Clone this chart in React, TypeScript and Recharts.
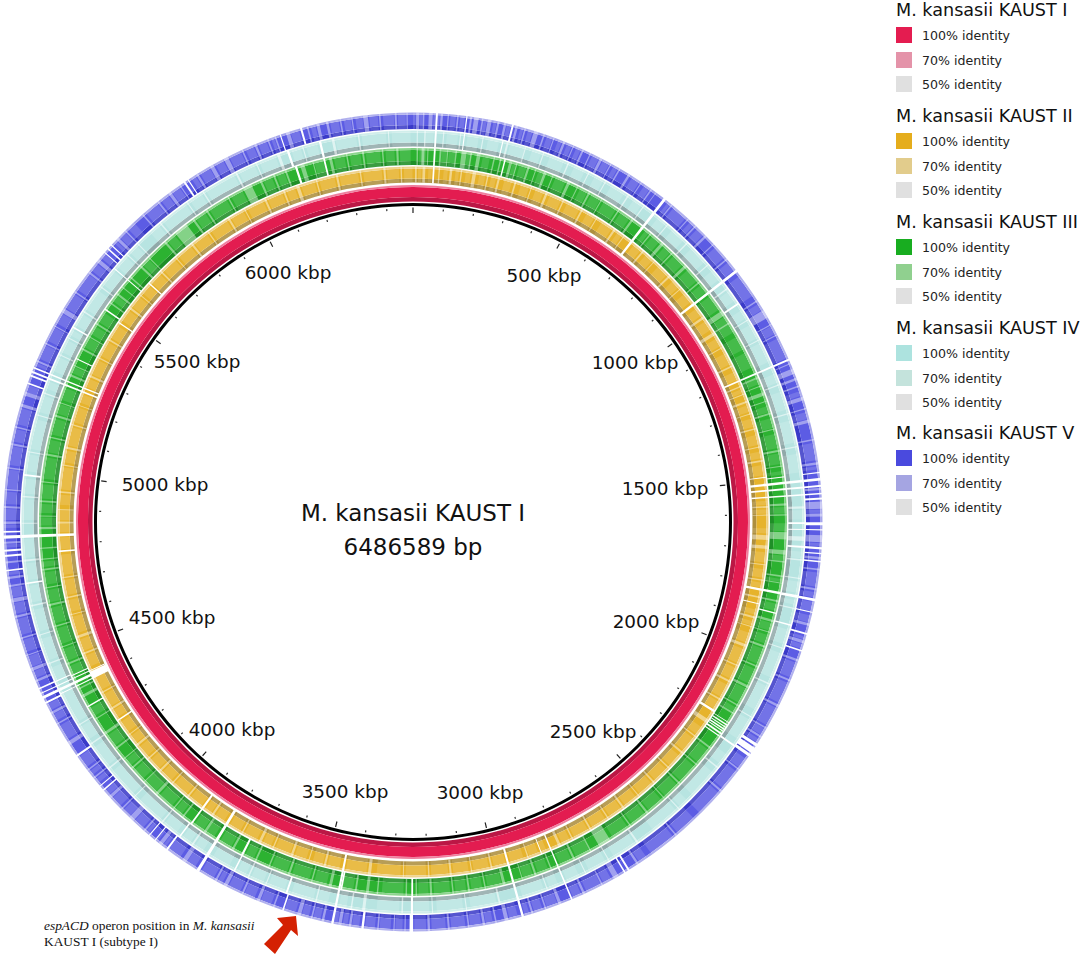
import React from "react";
import { PieChart, Pie } from "recharts";

const GENOME_KBP = 6486.589;
const minorTicks = [100,200,300,400,600,700,800,900,1100,1200,1300,1400,1600,1700,1800,1900,2100,2200,2300,2400,2600,2700,2800,2900,3100,3200,3300,3400,3600,3700,3800,3900,4100,4200,4300,4400,4600,4700,4800,4900,5100,5200,5300,5400,5600,5700,5800,5900,6100,6200,6300,6400];
const majorTicks = [0,500,1000,1500,2000,2500,3000,3500,4000,4500,5000,5500,6000];
const labelKbp = [500,1000,1500,2000,2500,3000,3500,4000,4500,5000,5500,6000];

// white gaps seen through all four comparison rings [start kbp, width kbp]
const sharedGaps = [[58,5],[680,7],[937,7],[1198,5],[1510,7],[1528,5],[1548,4],[1816,7],[2960,6],[2830,4],[3445,6],[3810,8],[4404,7],[4418,3],[4823,8],[5250,5],[5262,4]];

const goldGaps = [[1490,3],[1860,3],[2197,7],[2860,3],[4395,22],[4777,5],[5478,4],[3895,6],[4252,4],[5622,4]];
const goldStrong = [[6,5],[28,8],[75,4],[108,7],[140,4],[175,10],[218,4],[250,6],[300,5],[350,3],[395,7],[450,4],[510,5],[560,3],[620,6],[655,3],[725,5],[770,3],[830,6],[880,3],[985,7],[1040,10],[1090,3],[1150,5],[1215,4],[1240,3],[1262,6],[1300,3],[1345,4],[1400,3],[1440,5],[1575,5],[1600,3],[1660,14],[1690,10],[1745,3],[1790,4],[1840,5],[1900,6],[1930,3],[1985,8],[2050,4],[2100,6],[2160,5],[2230,12],[2290,4],[2350,6],[2410,4],[2470,5],[2530,3],[2585,6],[2640,4],[2700,5],[2760,4],[2800,8],[2900,4],[3010,5],[3070,3],[3130,6],[3195,4],[3270,3],[3366,9],[3500,6],[3550,3],[3600,7],[3660,4],[3700,8],[3760,4],[3860,6],[3950,5],[4010,4],[4060,6],[4110,4],[4160,7],[4200,3],[4290,6],[4345,4],[4470,5],[4520,8],[4590,3],[4640,5],[4700,4],[4860,6],[4900,3],[4950,5],[5030,3],[5080,6],[5150,4],[5210,3],[5300,6],[5360,4],[5420,5],[5530,6],[5580,3],[5670,5],[5730,3],[5790,6],[5850,4],[5920,6],[5975,3],[6040,6],[6100,5],[6140,10],[6200,4],[6260,6],[6330,4],[6400,6],[6450,4]];
const goldFaint = [[15,10],[45,10],[90,12],[125,10],[155,15],[195,18],[230,15],[270,22],[320,25],[365,24],[410,35],[465,40],[530,25],[580,35],[635,15],[695,25],[740,25],[790,35],[850,25],[900,30],[955,25],[1000,30],[1060,25],[1110,35],[1170,25],[1225,12],[1275,20],[1315,25],[1365,30],[1415,20],[1455,30],[1560,12],[1585,12],[1640,15],[1710,30],[1760,25],[1800,14],[1880,15],[1915,12],[1950,30],[2000,45],[2060,35],[2115,40],[2170,24],[2260,25],[2300,45],[2365,40],[2420,45],[2480,45],[2540,40],[2595,40],[2650,45],[2710,45],[2770,25],[2845,14],[2870,28],[2915,40],[2970,35],[3020,45],[3080,45],[3140,50],[3205,60],[3280,70],[3380,60],[3460,35],[3510,30],[3560,35],[3610,45],[3670,25],[3715,40],[3770,35],[3825,30],[3870,20],[3905,40],[3960,45],[4020,35],[4070,35],[4120,35],[4170,25],[4210,35],[4262,24],[4300,40],[4355,45],[4430,35],[4480,35],[4535,50],[4600,35],[4650,45],[4710,60],[4785,35],[4835,24],[4870,30],[4915,30],[4960,65],[5040,35],[5090,55],[5160,45],[5220,25],[5270,25],[5310,45],[5370,45],[5430,40],[5490,35],[5540,35],[5590,28],[5630,35],[5680,45],[5740,45],[5800,45],[5860,55],[5930,40],[5985,50],[6050,45],[6110,25],[6155,40],[6210,45],[6270,55],[6340,55],[6410,35],[6460,25]];

const greenGaps = [[255,4],[1495,3],[1874,4],[2205,2],[2212,4],[2220,3],[2226,4],[2233,3],[2240,5],[2250,3],[3243,5],[3440,5],[3730,6],[3895,5],[4330,4],[5487,4],[5330,3],[6155,6],[6236,5],[5590,3],[4395,3],[4427,3]];
const greenStrong = [[10,4],[24,8],[40,3],[74,5],[95,3],[118,4],[135,14],[160,4],[178,10],[225,4],[243,4],[270,8],[290,3],[322,6],[345,3],[370,7],[395,3],[440,8],[470,3],[505,5],[545,3],[600,4],[645,6],[710,4],[750,9],[790,4],[840,8],[900,4],[1002,15],[1040,4],[1210,5],[1235,3],[1255,10],[1280,3],[1315,5],[1360,3],[1420,6],[1465,3],[1570,6],[1600,4],[1650,20],[1700,12],[1730,4],[1770,5],[1790,3],[1840,5],[1895,7],[1930,3],[1970,6],[2030,4],[2090,7],[2150,4],[2175,5],[2290,5],[2350,4],[2420,5],[2480,3],[2540,6],[2600,4],[2670,35],[2730,4],[2780,6],[2850,4],[2895,6],[2935,3],[2985,8],[3040,4],[3085,5],[3130,4],[3190,6],[3232,4],[3260,4],[3340,4],[3366,8],[3400,5],[3470,8],[3525,4],[3590,6],[3650,4],[3690,5],[3760,6],[3850,7],[3925,5],[3960,4],[4020,8],[4070,3],[4120,5],[4155,3],[4190,5],[4240,8],[4290,3],[4360,8],[4385,4],[4460,5],[4510,3],[4570,4],[4630,6],[4680,3],[4730,5],[4760,3],[4790,4],[4845,6],[4880,3],[4920,5],[4975,3],[5050,6],[5100,4],[5160,6],[5200,3],[5280,6],[5310,3],[5360,5],[5400,3],[5440,5],[5510,4],[5540,6],[5565,3],[5600,4],[5640,6],[5675,3],[5735,6],[5775,40],[5835,6],[5880,5],[5950,4],[6000,25],[6050,6],[6090,5],[6125,5],[6170,12],[6205,3],[6252,8],[6300,4],[6345,5],[6400,4],[6440,6]];
const greenFaint = [[18,18],[80,15],[100,18],[150,12],[195,20],[280,12],[300,20],[355,18],[405,30],[480,22],[515,28],[555,40],[610,30],[695,12],[720,25],[765,22],[800,35],[855,40],[910,25],[950,45],[1020,50],[1085,40],[1135,45],[1215,15],[1295,18],[1330,28],[1375,40],[1430,30],[1480,10],[1580,18],[1625,22],[1715,15],[1780,9],[1850,20],[1905,22],[1940,25],[1980,45],[2040,45],[2100,45],[2160,14],[2300,45],[2360,55],[2430,45],[2490,45],[2550,45],[2610,50],[2735,40],[2790,35],[2860,30],[2905,28],[2995,40],[3050,30],[3095,30],[3140,45],[3200,28],[3270,60],[3410,30],[3485,35],[3535,50],[3600,45],[3700,25],[3770,35],[3825,25],[3860,30],[3935,22],[3970,45],[4030,40],[4080,35],[4130,22],[4200,35],[4300,25],[4430,25],[4470,35],[4520,45],[4580,45],[4640,35],[4690,35],[4740,15],[4855,22],[4890,25],[4930,40],[4985,60],[5060,35],[5110,45],[5170,28],[5210,35],[5290,18],[5370,28],[5410,25],[5450,30],[5520,18],[5650,22],[5745,25],[5845,30],[5890,55],[5960,35],[6060,25],[6100,22],[6210,25],[6265,30],[6310,30],[6355,40],[6410,25],[6450,30]];

const tealGaps = [[135,3],[238,3],[1009,5],[1640,3],[1622,5],[1685,5],[1895,4],[2247,5],[3243,6],[3580,5],[3730,4],[3900,4],[4395,3],[4430,3],[4700,4],[4987,5],[5400,4],[5590,3],[6148,6],[6236,6]];
const tealStrong = [[10,3],[30,4],[80,3],[125,3],[185,3],[250,5],[300,3],[350,3],[420,4],[480,3],[530,3],[600,4],[650,3],[730,3],[800,4],[880,3],[960,4],[1060,3],[1120,3],[1250,3],[1330,3],[1420,3],[1580,6],[1660,12],[1720,4],[1770,3],[1850,4],[1960,3],[2060,4],[2160,3],[2320,4],[2470,3],[2610,5],[2700,3],[2770,3],[2880,3],[3010,5],[3100,3],[3190,3],[3270,4],[3370,8],[3405,4],[3500,4],[3640,3],[3690,4],[3860,5],[3960,4],[4060,3],[4160,4],[4240,4],[4300,3],[4480,4],[4560,3],[4640,4],[4760,5],[4860,3],[4930,4],[5050,3],[5150,3],[5210,4],[5320,3],[5370,3],[5450,4],[5530,3],[5640,3],[5680,3],[5760,4],[5850,3],[5900,4],[6000,5],[6060,3],[6120,8],[6190,3],[6270,7],[6340,4],[6420,3]];
const tealFaint = [[35,20],[90,30],[145,30],[200,30],[260,40],[320,25],[370,40],[440,30],[500,25],[550,40],[620,25],[700,25],[750,40],[820,50],[900,30],[970,30],[1030,25],[1075,40],[1130,55],[1220,25],[1270,50],[1350,60],[1440,50],[1590,25],[1700,18],[1780,30],[1830,12],[1910,40],[1975,70],[2070,70],[2170,60],[2280,30],[2340,80],[2440,25],[2480,80],[2620,65],[2710,50],[2790,35],[2850,25],[2890,60],[3020,70],[3110,70],[3200,40],[3280,60],[3420,20],[3470,28],[3510,60],[3590,45],[3650,35],[3700,25],[3750,50],[3830,25],[3870,25],[3915,40],[3970,75],[4070,80],[4170,60],[4255,40],[4310,85],[4430,40],[4490,60],[4570,60],[4650,45],[4710,45],[4770,50],[4870,55],[4940,40],[5000,45],[5060,80],[5160,45],[5225,20],[5275,40],[5330,35],[5380,15],[5410,35],[5460,60],[5540,45],[5600,35],[5650,25],[5725,30],[5770,75],[5860,35],[5910,85],[6010,45],[6070,45],[6160,25],[6200,30],[6280,55],[6350,65],[6430,50]];

const blueGaps = [[135,3],[252,5],[1495,3],[1560,5],[1622,8],[1640,3],[1685,6],[1700,3],[1720,4],[1850,3],[1905,5],[1950,4],[2212,8],[2224,16],[2243,8],[2668,5],[2680,4],[3243,9],[3368,6],[3575,4],[3906,5],[3945,3],[3964,3],[4126,4],[4140,3],[4235,5],[4390,5],[4430,4],[4740,4],[4777,5],[4790,5],[4838,4],[5220,4],[5240,5],[5605,3],[5617,4],[5630,3],[5873,5],[5885,3],[6198,5],[6144,3]];
const blueStrong = [[8,8],[25,4],[40,10],[70,6],[88,3],[112,4],[145,5],[155,12],[175,4],[190,10],[215,5],[232,6],[262,6],[285,4],[310,12],[335,4],[362,3],[388,6],[415,3],[440,5],[462,3],[490,7],[520,3],[545,4],[572,6],[610,3],[640,4],[655,2],[705,4],[760,3],[785,4],[820,6],[850,3],[900,4],[1030,4],[1060,22],[1100,3],[1130,3],[1210,3],[1225,14],[1250,6],[1270,4],[1300,10],[1330,3],[1360,8],[1410,4],[1470,6],[1535,6],[1570,18],[1600,8],[1655,18],[1710,6],[1740,4],[1790,5],[1880,7],[1925,8],[1975,6],[2030,5],[2100,6],[2165,4],[2190,5],[2290,4],[2360,5],[2520,4],[2640,6],[2700,14],[2745,4],[2795,6],[2860,8],[2900,4],[2935,5],[3000,10],[3030,4],[3060,6],[3100,4],[3150,5],[3200,6],[3262,3],[3290,3],[3330,4],[3400,6],[3425,8],[3470,6],[3500,4],[3530,10],[3600,4],[3640,8],[3685,5],[3730,10],[3760,5],[3850,12],[3925,10],[3980,5],[4020,14],[4060,4],[4100,8],[4165,4],[4190,4],[4270,10],[4330,4],[4360,6],[4450,6],[4480,8],[4520,3],[4565,4],[4620,6],[4660,10],[4700,5],[4720,6],[4760,5],[4810,5],[4860,6],[4900,5],[4945,4],[5000,4],[5060,5],[5105,4],[5160,8],[5190,10],[5280,5],[5330,4],[5380,3],[5420,12],[5480,4],[5540,5],[5575,10],[5650,8],[5680,4],[5740,4],[5790,5],[5825,8],[5860,3],[5910,6],[5950,10],[5990,12],[6040,4],[6075,6],[6110,4],[6130,4],[6160,10],[6215,4],[6240,8],[6265,6],[6300,4],[6330,3],[6360,12],[6400,4],[6440,5],[6470,3]];
const blueFaint = [[0,6],[18,6],[52,16],[95,14],[120,12],[180,8],[205,8],[240,10],[275,8],[295,12],[345,15],[375,10],[400,12],[425,12],[470,18],[500,18],[530,12],[585,22],[622,16],[695,8],[715,40],[770,12],[795,22],[860,35],[910,25],[955,60],[1040,18],[1105,22],[1140,55],[1285,12],[1340,18],[1420,45],[1480,8],[1590,8],[1675,8],[1750,36],[1800,14],[1825,24],[1860,18],[1915,8],[1935,12],[1985,40],[2040,55],[2110,50],[2170,18],[2200,10],[2260,28],[2300,55],[2370,70],[2460,55],[2530,70],[2615,22],[2720,22],[2750,40],[2805,22],[2870,28],[2910,22],[2945,12],[2975,22],[3040,18],[3070,28],[3110,36],[3160,36],[3210,30],[3270,18],[3300,28],[3340,25],[3380,18],[3410,12],[3435,10],[3480,18],[3510,18],[3545,28],[3610,28],[3655,28],[3695,32],[3745,12],[3770,36],[3825,24],[3870,35],[3915,8],[3940,4],[3970,8],[3990,28],[4035,22],[4070,28],[4110,14],[4150,12],[4175,12],[4200,32],[4285,40],[4340,18],[4370,18],[4460,18],[4490,28],[4530,32],[4575,42],[4630,28],[4672,26],[4730,8],[4800,8],[4850,8],[4870,28],[4910,32],[4950,48],[5010,48],[5070,32],[5115,42],[5200,18],[5270,8],[5290,38],[5340,38],[5390,28],[5435,42],[5490,48],[5550,22],[5590,14],[5640,8],[5660,18],[5690,22],[5750,38],[5800,22],[5835,22],[5895,12],[5920,28],[5965,22],[6005,32],[6050,22],[6085,22],[6120,8],[6172,22],[6225,12],[6275,22],[6310,18],[6340,18],[6375,22],[6410,28],[6448,20]];

const legendGroups = ["M. kansasii KAUST I","M. kansasii KAUST II","M. kansasii KAUST III","M. kansasii KAUST IV","M. kansasii KAUST V"];
const legendLevels = ["100% identity","70% identity","50% identity"];
const legend100 = ["#e41c50","#e5ad1c","#18ad20","#ade3df","#4a4ade"];
const legend70 = ["#e493a9","#e2cc8c","#90d08f","#c4e3dc","#a5a5e2"];
const legendTop = [0,106,212,318,423];

const CX = 413;
const CY = 522;
const WIDTH = 1084;
const HEIGHT = 955;
const FONT = '"DejaVu Sans", sans-serif';

// label centre relative to the circle centre, in label order
const labelOffset = [[131,-247],[222,-160],[252,-34],[243,99],[180,209],[67,270],[-68,269],[-181,207],[-241,95],[-248,-38],[-216,-161],[-125,-250]];

type Seg = { value: number; fill: string };

function segments(list: number[][], fill: string): Seg[] {
  const sorted = [...list].sort((a, b) => a[0] - b[0]);
  const out: Seg[] = [];
  let cur = 0;
  for (const [p, w] of sorted) {
    const start = Math.max(p, cur);
    const end = Math.min(p + w, GENOME_KBP);
    if (end <= start) continue;
    if (start > cur) out.push({ value: start - cur, fill: "none" });
    out.push({ value: end - start, fill });
    cur = end;
  }
  if (cur < GENOME_KBP) out.push({ value: GENOME_KBP - cur, fill: "none" });
  return out;
}

const solid = (fill: string): Seg[] => [{ value: GENOME_KBP, fill }];

function Ring(key: string, data: Seg[], inner: number, outer: number, shift = 0, label?: any) {
  return (
    <Pie
      key={key}
      data={data}
      dataKey="value"
      cx={CX}
      cy={CY}
      innerRadius={inner}
      outerRadius={outer}
      startAngle={90 + shift}
      endAngle={-270 + shift}
      paddingAngle={0}
      stroke="none"
      isAnimationActive={false}
      legendType="none"
      label={label ?? false}
      labelLine={false}
    />
  );
}

const ringSpecs = [
  { id: "gold", r0: 339.5, r1: 355.5, dark: "#ad8f3f", main: "#e6b32c", pale: "#eccd7f", gaps: goldGaps, strong: goldStrong, faint: goldFaint, so: 0.45, fo: 0.13 },
  { id: "green", r0: 357, r1: 374, dark: "#1f8f27", main: "#2cb231", pale: "#7fcf80", gaps: greenGaps, strong: greenStrong, faint: greenFaint, so: 0.42, fo: 0.12 },
  { id: "teal", r0: 375.5, r1: 391.5, dark: "#90a9a9", main: "#b7e4e1", pale: "#c9ebe8", gaps: tealGaps, strong: tealStrong, faint: tealFaint, so: 0.55, fo: 0.15 },
  { id: "blue", r0: 393, r1: 409.5, dark: "#3a3ac8", main: "#5c5ce4", pale: "#a5a5ec", gaps: blueGaps, strong: blueStrong, faint: blueFaint, so: 0.42, fo: 0.14 },
];

function labelSegments(): Seg[] {
  const out: Seg[] = [];
  let prev = 0;
  for (const k of labelKbp) {
    out.push({ value: k - prev, fill: "none" });
    prev = k;
  }
  out.push({ value: GENOME_KBP - prev, fill: "none" });
  return out;
}

function renderTickLabel(p: any) {
  const i = p.index - 1;
  if (i < 0 || i >= labelKbp.length) return null;
  return (
    <text
      key={i}
      x={p.cx + labelOffset[i][0]}
      y={p.cy + labelOffset[i][1]}
      textAnchor="middle"
      dominantBaseline="central"
      fontFamily={FONT}
      fontSize={18.4}
      fill="#111"
    >
      {labelKbp[i]} kbp
    </text>
  );
}

export default function App() {
  return (
    <div style={{ position: "absolute", left: 0, top: 0, width: WIDTH, height: HEIGHT, background: "#fff", overflow: "hidden" }}>
      <PieChart width={WIDTH} height={HEIGHT} margin={{ top: 0, right: 0, bottom: 0, left: 0 }}>
        {Ring("axis", solid("#000"), 316, 319)}
        {Ring("minor", segments(minorTicks.map((t) => [t - 2, 4]), "#333"), 312, 314)}
        {Ring("major", segments(majorTicks.map((t) => [t, 4]), "#222"), 309, 314.5, 0.111)}
        {Ring("red-dark", solid("#bb1745"), 320.5, 325)}
        {Ring("red-main", solid("#e31c50"), 325, 335)}
        {Ring("red-pale", solid("#ee7f9e"), 335, 337)}
        {ringSpecs.flatMap((s) => [
          Ring(s.id + "-dark", solid(s.dark), s.r0, s.r0 + 4),
          Ring(s.id + "-main", solid(s.main), s.r0 + 4, s.r1 - 2),
          Ring(s.id + "-pale", solid(s.pale), s.r1 - 2, s.r1),
          Ring(s.id + "-faint", segments(s.faint, `rgba(255,255,255,${s.fo})`), s.r0, s.r1),
          Ring(s.id + "-strong", segments(s.strong, `rgba(255,255,255,${s.so})`), s.r0, s.r1),
          Ring(s.id + "-gap", segments([...sharedGaps, ...s.gaps], "#fff"), s.r0 - 0.5, s.r1 + 0.5),
        ])}
        {Ring("labels", labelSegments(), 280, 300, 0, renderTickLabel)}
      </PieChart>

      <svg width={WIDTH} height={HEIGHT} style={{ position: "absolute", left: 0, top: 0 }}>
        <text x={CX} y={513} textAnchor="middle" dominantBaseline="central" fontFamily={FONT} fontSize={23} fill="#111">M. kansasii KAUST I</text>
        <text x={CX} y={547} textAnchor="middle" dominantBaseline="central" fontFamily={FONT} fontSize={23} fill="#111">6486589 bp</text>
        <polygon points="277,918 296,916 298,936 291,930 275,954 264,944 283,925" fill="#d42102" />
        <text x={44} y={930} fontFamily='"Liberation Serif", serif' fontSize={13.4} fill="#111">
          <tspan fontStyle="italic">espACD</tspan> operon position in <tspan fontStyle="italic">M. kansasii</tspan>
        </text>
        <text x={44} y={946} fontFamily='"Liberation Serif", serif' fontSize={13.4} fill="#111">KAUST I (subtype I)</text>
      </svg>

      {legendGroups.map((g, gi) => (
        <div key={g} style={{ position: "absolute", left: 896, top: legendTop[gi], width: 188, fontFamily: FONT, color: "#111" }}>
          <div style={{ position: "absolute", left: 0, top: 1, fontSize: 17.6, lineHeight: "18px", whiteSpace: "nowrap" }}>{g}</div>
          {legendLevels.map((lv, li) => (
            <div key={lv}>
              <div
                style={{
                  position: "absolute",
                  left: 0,
                  top: 27 + li * 24.5,
                  width: 16,
                  height: 16,
                  background: li === 0 ? legend100[gi] : li === 1 ? legend70[gi] : "#e0e0e0",
                }}
              />
              <div style={{ position: "absolute", left: 26, top: 27 + li * 24.5, fontSize: 12.6, lineHeight: "17px", whiteSpace: "nowrap", color: "#222" }}>{lv}</div>
            </div>
          ))}
        </div>
      ))}
    </div>
  );
}
